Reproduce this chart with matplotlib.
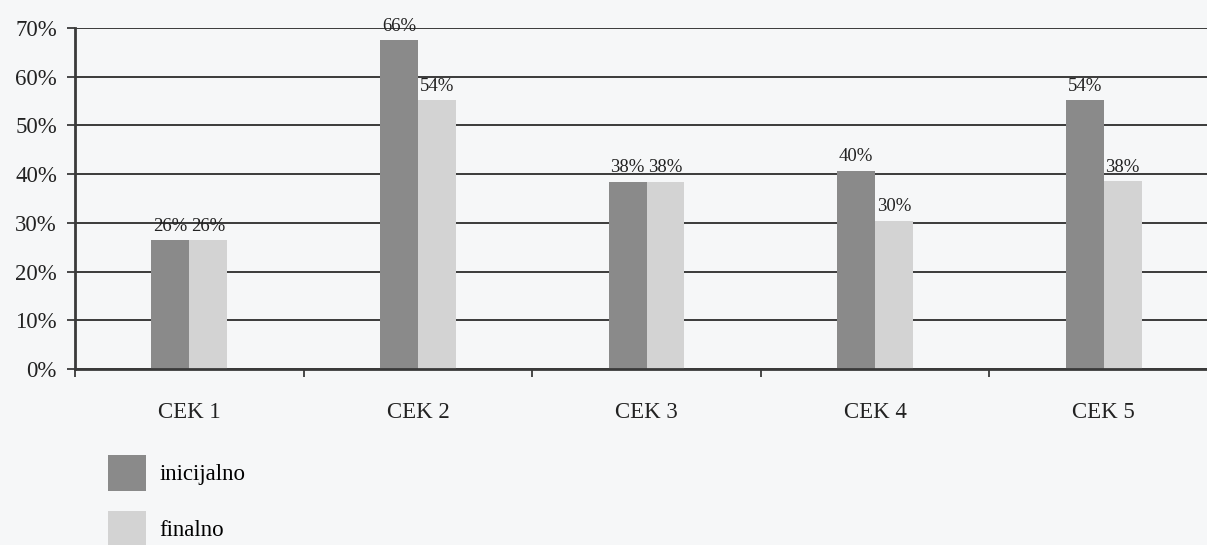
import numpy as np
import matplotlib
matplotlib.use("Agg")
import matplotlib.pyplot as plt
from matplotlib.ticker import MultipleLocator, FuncFormatter

plt.rcParams["font.family"] = ["Liberation Serif", "DejaVu Serif"]

categories = ["CEK 1", "CEK 2", "CEK 3", "CEK 4", "CEK 5"]
inicijalno = [26.4, 67.5, 38.4, 40.7, 55.2]
finalno = [26.4, 55.2, 38.4, 30.4, 38.5]
inicijalno_labels = ["26%", "66%", "38%", "40%", "54%"]
finalno_labels = ["26%", "54%", "38%", "30%", "38%"]

dark = "#8a8a8a"
light = "#d3d3d3"
line_col = "#3a3a3a"

fig = plt.figure(figsize=(12.07, 5.45), dpi=100, facecolor="#f6f7f8")
ax = fig.add_axes([75 / 1207, 176 / 545, 1143 / 1207, 341 / 545])
ax.set_facecolor("#f6f7f8")

x = np.arange(len(categories))
w = 0.166
b1 = ax.bar(x - w / 2, inicijalno, w, color=dark, label="inicijalno", zorder=3)
b2 = ax.bar(x + w / 2, finalno, w, color=light, label="finalno", zorder=3)

for bars, labels in [(b1, inicijalno_labels), (b2, finalno_labels)]:
    for rect, lab in zip(bars, labels):
        ax.annotate(lab, (rect.get_x() + rect.get_width() / 2, rect.get_height()),
                    xytext=(0, 4), textcoords="offset points",
                    ha="center", va="bottom", fontsize=13.5, color="#222222", zorder=4)

ax.set_xlim(-0.5, len(categories) - 0.5)
ax.set_ylim(0, 70)

ax.yaxis.set_major_locator(MultipleLocator(10))
ax.yaxis.set_major_formatter(FuncFormatter(lambda v, p: f"{v:.0f}%"))
ax.yaxis.grid(True, color=line_col, linewidth=1.4, zorder=1)
ax.set_axisbelow(True)

ax.set_xticks(np.arange(-0.5, len(categories), 1.0))
ax.set_xticklabels([])
ax.set_xticks(x, minor=True)
ax.set_xticklabels(categories, minor=True)
ax.tick_params(axis="x", which="major", direction="out", length=6, width=1.3, color=line_col)
ax.tick_params(axis="x", which="minor", length=0, pad=24, labelsize=16.5, labelcolor="#222222")
ax.tick_params(axis="y", direction="out", length=6, width=1.3, color=line_col, pad=7,
               labelsize=16.5, labelcolor="#222222")

for s in ["top", "right"]:
    ax.spines[s].set_visible(False)
for s in ["left", "bottom"]:
    ax.spines[s].set_color(line_col)
    ax.spines[s].set_linewidth(2)
    ax.spines[s].set_zorder(5)

fig.legend(handles=[b1, b2], labels=["inicijalno", "finalno"],
           loc="upper left", bbox_to_anchor=(108 / 1207, 1 - 455 / 545),
           frameon=False, fontsize=16.5, handlelength=1.65, handleheight=2.05,
           handletextpad=0.6, labelspacing=0.85, borderpad=0, borderaxespad=0)

fig.savefig("out.png", dpi=100, facecolor=fig.get_facecolor())
